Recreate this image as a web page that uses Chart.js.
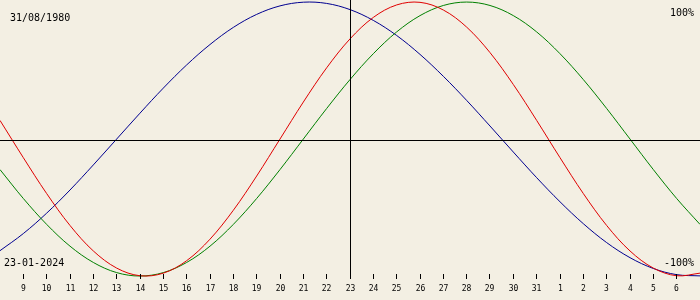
<!DOCTYPE html>
<html>
<head>
<meta charset="utf-8">
<script src="https://cdn.jsdelivr.net/npm/chart.js@4/dist/chart.umd.min.js"></script>
<style>
  body { margin: 0; background: #f3efe3; }
  canvas { display: block; }
</style>
</head>
<body>
<canvas id="bioChart" width="700" height="300"></canvas>
<script>
// day of month for every column, 8 Jan .. 7 Feb 2024
const dayLabels = ["8", "9", "10", "11", "12", "13", "14", "15", "16", "17", "18", "19", "20", "21", "22",
  "23", "24", "25", "26", "27", "28", "29", "30", "31", "1", "2", "3", "4", "5", "6", "7"];

// biorhythm values in %
const physical = [13.6, -13.6, -39.8, -63.1, -81.7, -94.2, -99.8, -97.9, -88.8, -73.1, -52.0, -27.0, 0,
  27.0, 52.0, 73.1, 88.8, 97.9, 99.8, 94.2, 81.7, 63.1, 39.8, 13.6, -13.6, -39.8, -63.1, -81.7, -94.2, -99.8, -97.9];
const emotional = [-22.3, -43.4, -62.3, -78.2, -90.1, -97.5, -100, -97.5, -90.1, -78.2, -62.3, -43.4, -22.3,
  0, 22.3, 43.4, 62.3, 78.2, 90.1, 97.5, 100, 97.5, 90.1, 78.2, 62.3, 43.4, 22.3, 0, -22.3, -43.4, -62.3];
const intellectual = [-81.5, -69.0, -54.1, -37.2, -18.9, 0, 18.9, 37.2, 54.1, 69.0, 81.5, 91.0, 97.2, 99.9,
  99.0, 94.5, 86.6, 75.6, 61.8, 45.8, 28.2, 9.5, -9.5, -28.2, -45.8, -61.8, -75.6, -86.6, -94.5, -99.0, -99.9];

const birthDate = "31/08/1980";
const todayDate = "23-01-2024";
const todayIndex = 15;
const topLabel = "100%";
const bottomLabel = "-100%";

// background, crosshair, day ticks and texts
const bioPlugin = {
  id: "bio",
  beforeDraw(chart) {
    const ctx = chart.ctx;
    ctx.save();
    ctx.fillStyle = "#f3efe3";
    ctx.fillRect(0, 0, chart.width, chart.height);
    ctx.restore();
  },
  afterDatasetsDraw(chart) {
    const ctx = chart.ctx;
    const x = chart.scales.x;
    const y = chart.scales.y;
    ctx.save();
    ctx.strokeStyle = "#000";
    ctx.lineWidth = 1;

    // zero line
    const y0 = Math.floor(y.getPixelForValue(0)) + 1.5;
    ctx.beginPath();
    ctx.moveTo(0, y0);
    ctx.lineTo(chart.width, y0);
    ctx.stroke();

    // today line
    const xt = Math.floor(x.getPixelForValue(todayIndex)) + 0.5;
    ctx.beginPath();
    ctx.moveTo(xt, 0);
    ctx.lineTo(xt, 279);
    ctx.stroke();

    // day ticks
    ctx.fillStyle = "#000";
    ctx.font = '8px "DejaVu Sans Mono"';
    ctx.textAlign = "center";
    ctx.textBaseline = "alphabetic";
    for (let i = 1; i < dayLabels.length - 1; i++) {
      const px = Math.floor(x.getPixelForValue(i)) + 0.5;
      ctx.beginPath();
      ctx.moveTo(px, 274);
      ctx.lineTo(px, 279);
      ctx.stroke();
      ctx.fillText(dayLabels[i], px, 291);
    }

    ctx.font = '10px "DejaVu Sans Mono"';
    ctx.textAlign = "left";
    ctx.fillText(birthDate, 10, 21);
    ctx.fillText(todayDate, 4, 266);
    ctx.textAlign = "right";
    ctx.fillText(topLabel, 694, 16);
    ctx.fillText(bottomLabel, 694, 266);
    ctx.restore();
  }
};

new Chart(document.getElementById("bioChart"), {
  type: "line",
  data: {
    labels: dayLabels,
    datasets: [
      { label: "Physical", data: physical, borderColor: "#e00000" },
      { label: "Emotional", data: emotional, borderColor: "#008000" },
      { label: "Intellectual", data: intellectual, borderColor: "#000090" }
    ]
  },
  options: {
    responsive: false,
    animation: false,
    layout: { padding: 0 },
    elements: {
      line: { borderWidth: 1, tension: 0.35, fill: false },
      point: { radius: 0 }
    },
    plugins: {
      legend: { display: false },
      tooltip: { enabled: false }
    },
    scales: {
      x: { type: "category", display: false, offset: false },
      y: { type: "linear", display: false, min: -117.5, max: 101.5 }
    }
  },
  plugins: [bioPlugin]
});
</script>
</body>
</html>
